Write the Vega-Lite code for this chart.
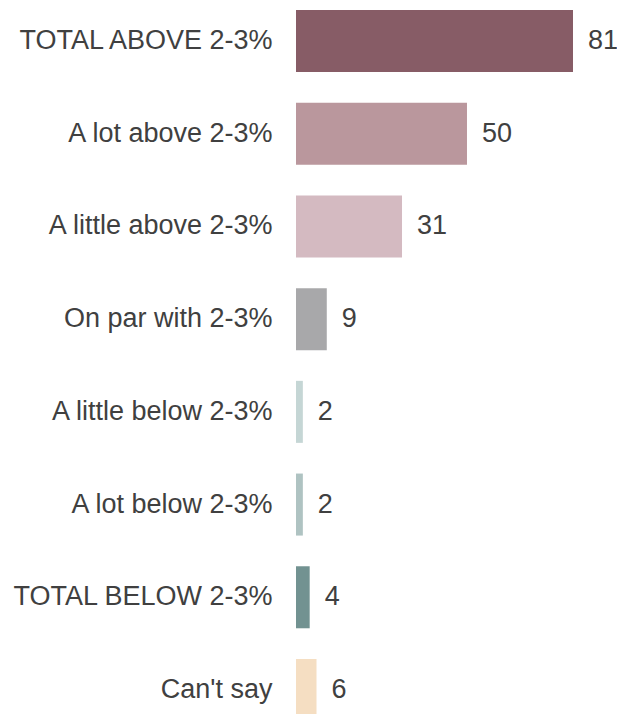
{
  "$schema": "https://vega.github.io/schema/vega-lite/v6.json",
  "autosize": {"type": "none"},
  "padding": {"left": 296, "top": 0, "right": 44, "bottom": 0},
  "width": 277,
  "height": 731,
  "background": "white",
  "config": {"view": {"stroke": null}, "font": "Liberation Sans"},
  "data": {
    "values": [
      {"label": "TOTAL ABOVE 2-3%", "value": 81, "color": "#875C66"},
      {"label": "A lot above 2-3%", "value": 50, "color": "#BA979D"},
      {"label": "A little above 2-3%", "value": 31, "color": "#D4BAC1"},
      {"label": "On par with 2-3%", "value": 9, "color": "#A8A8AA"},
      {"label": "A little below 2-3%", "value": 2, "color": "#C5D6D5"},
      {"label": "A lot below 2-3%", "value": 2, "color": "#AFC3C2"},
      {"label": "TOTAL BELOW 2-3%", "value": 4, "color": "#729291"},
      {"label": "Can't say", "value": 6, "color": "#F5DEC2"}
    ]
  },
  "encoding": {
    "y": {
      "field": "label",
      "type": "nominal",
      "sort": null,
      "scale": {"paddingInner": 0.331, "paddingOuter": 0.108},
      "axis": {
        "title": null,
        "domain": false,
        "ticks": false,
        "labelPadding": 24,
        "labelFontSize": 27,
        "labelColor": "#404040",
        "labelFont": "Liberation Sans",
        "labelLimit": 400
      }
    },
    "x": {
      "field": "value",
      "type": "quantitative",
      "scale": {"domain": [0, 81], "nice": false},
      "axis": null
    }
  },
  "layer": [
    {
      "mark": {"type": "bar"},
      "encoding": {
        "color": {"field": "color", "type": "nominal", "scale": null}
      }
    },
    {
      "mark": {"type": "text", "align": "left", "baseline": "middle", "dx": 15, "fontSize": 27, "color": "#404040", "font": "Liberation Sans"},
      "encoding": {"text": {"field": "value", "type": "quantitative"}}
    }
  ]
}
